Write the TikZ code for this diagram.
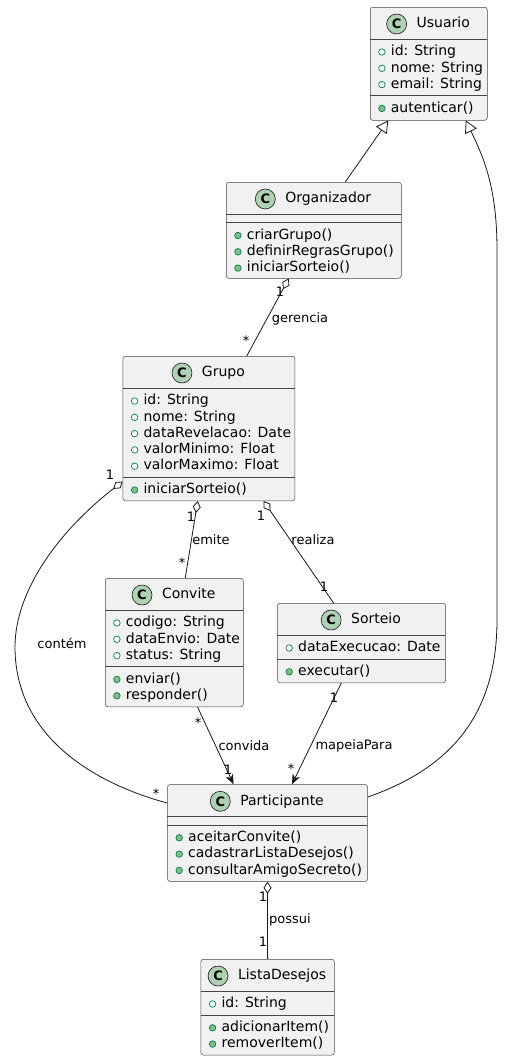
\documentclass[tikz,border=0pt]{standalone}
\usepackage{fontspec}
\setmainfont{DejaVu Sans}
\usepackage{xcolor}
\usepackage{tikz}
\usetikzlibrary{arrows.meta,positioning}

\definecolor{umlline}{HTML}{181818}
\definecolor{umlfill}{HTML}{F1F1F1}
\definecolor{iconfill}{HTML}{ADD1B2}
\definecolor{markline}{HTML}{038048}
\definecolor{markfill}{HTML}{84BE84}

\tikzset{
  classbox/.style={draw=umlline!80,fill=umlfill,rounded corners=2.5pt,line width=0.5pt,inner sep=0,anchor=north west},
  sepline/.style={draw=umlline!80,line width=0.5pt},
  classname/.style={inner sep=0,font=\fontsize{14}{16}\selectfont,text height=10.5pt,text depth=3pt},
  classicon/.style={circle,draw=umlline,fill=iconfill,line width=0.6pt,minimum size=20pt,inner sep=0,font=\fontsize{13}{13}\selectfont\bfseries},
  fieldmark/.style={circle,draw=markline,fill=white,line width=0.7pt,minimum size=6.5pt,inner sep=0},
  methodmark/.style={circle,draw=markline,fill=markfill,line width=0.7pt,minimum size=6.5pt,inner sep=0},
  member/.style={anchor=west,inner sep=0,font=\fontsize{14}{16}\selectfont,text height=10.5pt,text depth=3pt},
  attr/.style={member,label={[fieldmark,label distance=5.2pt]west:{}}},
  meth/.style={member,label={[methodmark,label distance=5.2pt]west:{}}},
  card/.style={inner sep=0,font=\fontsize{13}{15}\selectfont},
  edge/.style={draw=umlline,line width=0.8pt},
  aggr/.style={edge,{Diamond[open,length=12pt,width=8pt]}-},
  inherit/.style={edge,-{Triangle[open,length=12pt,width=13pt]}},
  assoc/.style={edge,-{Stealth[length=10pt,width=8pt,inset=3pt]}}
}

\begin{document}
\begin{tikzpicture}[x=1pt,y=-1pt]
\path[fill=white,use as bounding box] (0,0) rectangle (504,1061);

% Usuario
\node[classbox,minimum width=117,minimum height=113] (usuario) at (370,7) {};
\node[classname] (usuarioN) at (443.25,24) {Usuario};
\node[classicon,left=9.5pt of usuarioN] (usuarioC) {C};
\draw[sepline] (370,39) -- (487,39);
\draw[sepline] (370,95.4) -- (487,95.4);
\node[attr] (usuarioA1) at (390.7,52) {id: String};
\node[attr] (usuarioA2) at (390.7,68.3) {nome: String};
\node[attr] (usuarioA3) at (390.7,84.6) {email: String};
\node[meth] (usuarioM1) at (390.7,108.4) {autenticar()};

% Organizador
\node[classbox,minimum width=175,minimum height=96] (organizador) at (226,182) {};
\node[classname] (organizadorN) at (328.25,199) {Organizador};
\node[classicon,left=9.5pt of organizadorN] (organizadorC) {C};
\draw[sepline] (226,214) -- (401,214);
\draw[sepline] (226,222.5) -- (401,222.5);
\node[meth] (organizadorM1) at (246.7,235.5) {criarGrupo()};
\node[meth] (organizadorM2) at (246.7,251.8) {definirRegrasGrupo()};
\node[meth] (organizadorM3) at (246.7,268.1) {iniciarSorteio()};

% Grupo
\node[classbox,minimum width=172,minimum height=144.5] (grupo) at (122.7,356) {};
\node[classname] (grupoN) at (223.45,373) {Grupo};
\node[classicon,left=9.5pt of grupoN] (grupoC) {C};
\draw[sepline] (122.7,388) -- (294.7,388);
\draw[sepline] (122.7,477) -- (294.7,477);
\node[attr] (grupoA1) at (143.4,401) {id: String};
\node[attr] (grupoA2) at (143.4,417.3) {nome: String};
\node[attr] (grupoA3) at (143.4,433.6) {dataRevelacao: Date};
\node[attr] (grupoA4) at (143.4,449.9) {valorMinimo: Float};
\node[attr] (grupoA5) at (143.4,466.2) {valorMaximo: Float};
\node[meth] (grupoM1) at (143.4,490) {iniciarSorteio()};

% Convite
\node[classbox,minimum width=138,minimum height=128.5] (convite) at (105,578) {};
\node[classname] (conviteN) at (188.75,595) {Convite};
\node[classicon,left=9.5pt of conviteN] (conviteC) {C};
\draw[sepline] (105,610) -- (243,610);
\draw[sepline] (105,666.4) -- (243,666.4);
\node[attr] (conviteA1) at (125.7,623) {codigo: String};
\node[attr] (conviteA2) at (125.7,639.3) {dataEnvio: Date};
\node[attr] (conviteA3) at (125.7,655.6) {status: String};
\node[meth] (conviteM1) at (125.7,679.4) {enviar()};
\node[meth] (conviteM2) at (125.7,695.7) {responder()};

% Sorteio
\node[classbox,minimum width=168,minimum height=79.6] (sorteio) at (277.3,603) {};
\node[classname] (sorteioN) at (376.05,620) {Sorteio};
\node[classicon,left=9.5pt of sorteioN] (sorteioC) {C};
\draw[sepline] (277.3,635) -- (445.3,635);
\draw[sepline] (277.3,658.8) -- (445.3,658.8);
\node[attr] (sorteioA1) at (298,648) {dataExecucao: Date};
\node[meth] (sorteioM1) at (298,671.8) {executar()};

% Participante
\node[classbox,minimum width=200,minimum height=96.9] (participante) at (167.3,784.3) {};
\node[classname] (participanteN) at (282.05,801.3) {Participante};
\node[classicon,left=9.5pt of participanteN] (participanteC) {C};
\draw[sepline] (167.3,816.3) -- (367.3,816.3);
\draw[sepline] (167.3,824.8) -- (367.3,824.8);
\node[meth] (participanteM1) at (188,837.8) {aceitarConvite()};
\node[meth] (participanteM2) at (188,854.1) {cadastrarListaDesejos()};
\node[meth] (participanteM3) at (188,870.4) {consultarAmigoSecreto()};

% ListaDesejos
\node[classbox,minimum width=133.3,minimum height=95.9] (lista) at (200.7,959) {};
\node[classname] (listaN) at (282.1,976) {ListaDesejos};
\node[classicon,left=9.5pt of listaN] (listaC) {C};
\draw[sepline] (200.7,991) -- (334,991);
\draw[sepline] (200.7,1014.8) -- (334,1014.8);
\node[attr] (listaA1) at (221.4,1004) {id: String};
\node[meth] (listaM1) at (221.4,1027.8) {adicionarItem()};
\node[meth] (listaM2) at (221.4,1044.1) {removerItem()};

% heranca
\draw[inherit] ([xshift=31.5pt]organizador.north) -- ([xshift=-40.5pt]usuario.south);
\draw[inherit] ([yshift=-12.7pt]participante.north east) .. controls (445,770) and (497,720) .. (497,620)
  -- (497,250) .. controls (497,190) and (485,160) .. ([xshift=37pt]usuario.south);

% associacoes
\draw[aggr] ([xshift=-25pt]organizador.south) -- ([xshift=37.8pt]grupo.north);
\node[card] (gerencia1) at (280,292) {1};
\node[card] (gerenciaN) at (246,341) {*};
\node[card] (gerencia) at (300,319) {gerencia};

\draw[aggr] ([xshift=-11.2pt]grupo.south) -- ([xshift=11pt]convite.north);
\node[card] (emite1) at (191,517) {1};
\node[card] (emiteN) at (182,563) {*};
\node[card] (emite) at (211,540) {emite};

\draw[aggr] ([xshift=54.6pt]grupo.south) -- ([xshift=-28pt]sorteio.north);
\node[card] (realiza1) at (261,516) {1};
\node[card] (realiza2) at (324,587) {1};
\node[card] (realiza) at (313,540) {realiza};

\draw[aggr] ([yshift=-53pt]grupo.west) .. controls (60,530) and (15,590) .. (15,647)
  .. controls (15,740) and (100,785) .. ([yshift=30pt]participante.west);
\node[card] (contem1) at (110,475) {1};
\node[card] (contemN) at (156,794) {*};
\node[card] (contem) at (62,643) {contém};

\draw[assoc] ([xshift=23.3pt]convite.south) -- ([xshift=-34pt]participante.north);
\node[card] (convidaN) at (198,723) {*};
\node[card] (convida1) at (228,770) {1};
\node[card] (convida) at (244,746) {convida};

\draw[assoc] ([xshift=-20.3pt]sorteio.south) -- ([xshift=24.4pt]participante.north);
\node[card] (mapeia1) at (334,698) {1};
\node[card] (mapeiaN) at (291,769) {*};
\node[card] (mapeia) at (354,746) {mapeiaPara};

\draw[aggr] (participante.south) -- (lista.north);
\node[card] (possui1) at (263,897) {1};
\node[card] (possui2) at (263,942) {1};
\node[card] (possui) at (290,920) {possui};
\end{tikzpicture}
\end{document}
